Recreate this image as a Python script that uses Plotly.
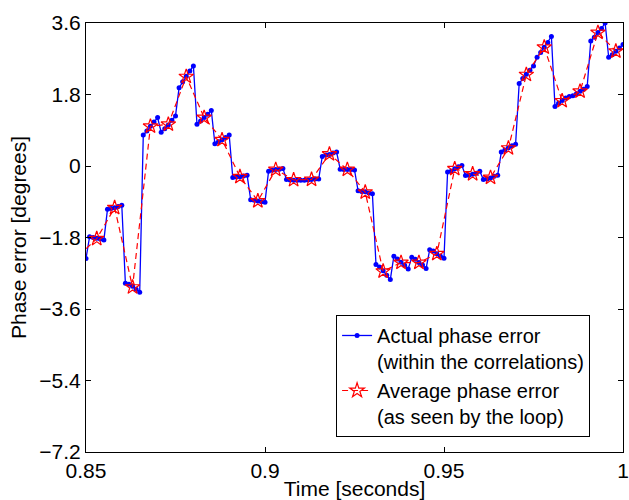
import numpy as np
import plotly.graph_objects as go

# Per-sample phase error, 1 ms spacing starting at t = 0.846 s (5 samples per loop update)
actual_blocks = [
    [-2.17, -2.21, -2.25, -2.29, -2.33],
    [-1.78, -1.80, -1.82, -1.84, -1.86],
    [-1.09, -1.07, -1.05, -1.02, -0.99],
    [-2.95, -2.98, -3.03, -3.10, -3.18],
    [0.78, 0.88, 1.00, 1.11, 1.22],
    [0.85, 0.94, 1.03, 1.15, 1.26],
    [1.97, 2.12, 2.26, 2.39, 2.52],
    [1.05, 1.13, 1.22, 1.30, 1.40],
    [0.56, 0.61, 0.66, 0.72, 0.78],
    [-0.29, -0.28, -0.27, -0.25, -0.23],
    [-0.85, -0.86, -0.88, -0.90, -0.91],
    [-0.13, -0.11, -0.09, -0.08, -0.06],
    [-0.34, -0.35, -0.36, -0.36, -0.36],
    [-0.36, -0.35, -0.34, -0.33, -0.33],
    [0.24, 0.28, 0.29, 0.33, 0.35],
    [-0.08, -0.09, -0.09, -0.09, -0.10],
    [-0.62, -0.64, -0.65, -0.68, -0.70],
    [-2.48, -2.54, -2.64, -2.75, -2.86],
    [-2.27, -2.34, -2.42, -2.50, -2.59],
    [-2.30, -2.35, -2.43, -2.49, -2.58],
    [-2.11, -2.14, -2.21, -2.27, -2.32],
    [-0.15, -0.13, -0.07, -0.02, 0.01],
    [-0.24, -0.23, -0.21, -0.18, -0.13],
    [-0.34, -0.33, -0.30, -0.26, -0.23],
    [0.35, 0.40, 0.46, 0.51, 0.55],
    [2.08, 2.20, 2.31, 2.41, 2.52],
    [2.74, 2.86, 2.99, 3.11, 3.26],
    [1.50, 1.58, 1.65, 1.71, 1.75],
    [1.77, 1.82, 1.88, 1.93, 2.00],
    [3.15, 3.24, 3.36, 3.46, 3.60],
    [2.74, 2.80, 2.89, 2.97, 3.06],
]
actual_start = 0.846
actual_step = 0.001

# Loop-level average phase error, one value per 5 ms update (centred in each block)
average_values = [
    -2.25, -1.83, -1.05, -3.05, 1.00, 1.05, 2.25, 1.22, 0.66, -0.27,
    -0.88, -0.09, -0.35, -0.34, 0.30, -0.09, -0.66, -2.65, -2.43, -2.43,
    -2.21, -0.07, -0.20, -0.29, 0.45, 2.30, 2.99, 1.64, 1.88, 3.36, 2.89,
]
average_start = 0.848
average_step = 0.005

x_ticks = [0.85, 0.9, 0.95, 1.0]
x_tick_text = ["0.85", "0.9", "0.95", "1"]
y_ticks = [-7.2, -5.4, -3.6, -1.8, 0, 1.8, 3.6]
y_tick_text = ["\u22127.2", "\u22125.4", "\u22123.6", "\u22121.8", "0", "1.8", "3.6"]

actual_values = [v for block in actual_blocks for v in block]
t_actual = np.round(actual_start + actual_step * np.arange(len(actual_values)), 4)
t_average = np.round(average_start + average_step * np.arange(len(average_values)), 4)

FONT = "Liberation Sans, Arial, Helvetica, sans-serif"
FS = 21

fig = go.Figure()
fig.add_trace(go.Scatter(
    x=t_actual, y=actual_values,
    mode="lines+markers",
    name="Actual phase error<br>(within the correlations)",
    line=dict(color="#0000FF", width=1.3),
    marker=dict(color="#0000FF", size=5),
))
fig.add_trace(go.Scatter(
    x=t_average, y=average_values,
    mode="lines+markers",
    name="Average phase error<br>(as seen by the loop)",
    line=dict(color="#FF0000", width=1.2, dash="6px,4px"),
    marker=dict(color="#FF0000", size=11, symbol="star-open", line=dict(color="#FF0000", width=1.2)),
))

axis_common = dict(
    showline=True, linecolor="black", linewidth=1,
    mirror="ticks", ticks="inside", ticklen=5, tickcolor="black",
    showgrid=False, zeroline=False,
    tickfont=dict(family=FONT, size=FS, color="black"),
    ticklabeloverflow="allow",
)

fig.update_xaxes(
    range=[0.85, 1.0], tickvals=x_ticks, ticktext=x_tick_text,
    title=dict(text="Time [seconds]", font=dict(family=FONT, size=FS, color="black"), standoff=2),
    **axis_common,
)
fig.update_yaxes(
    range=[-7.2, 3.6], tickvals=y_ticks, ticktext=y_tick_text,
    title=dict(text="Phase error [degrees]", font=dict(family=FONT, size=FS, color="black"), standoff=6),
    **axis_common,
)

fig.update_layout(
    width=629, height=500,
    margin=dict(l=86, r=0, t=23, b=48),
    plot_bgcolor="white", paper_bgcolor="white",
    font=dict(family=FONT, size=FS, color="black"),
    showlegend=True,
    legend=dict(
        x=0.9387, y=0.035, xanchor="right", yanchor="bottom",
        bgcolor="white", bordercolor="black", borderwidth=1,
        font=dict(family=FONT, size=20, color="black"),
        tracegroupgap=0, itemwidth=30, valign="top",
        entrywidth=240, entrywidthmode="pixels",
    ),
)

fig.write_html("out.html")
